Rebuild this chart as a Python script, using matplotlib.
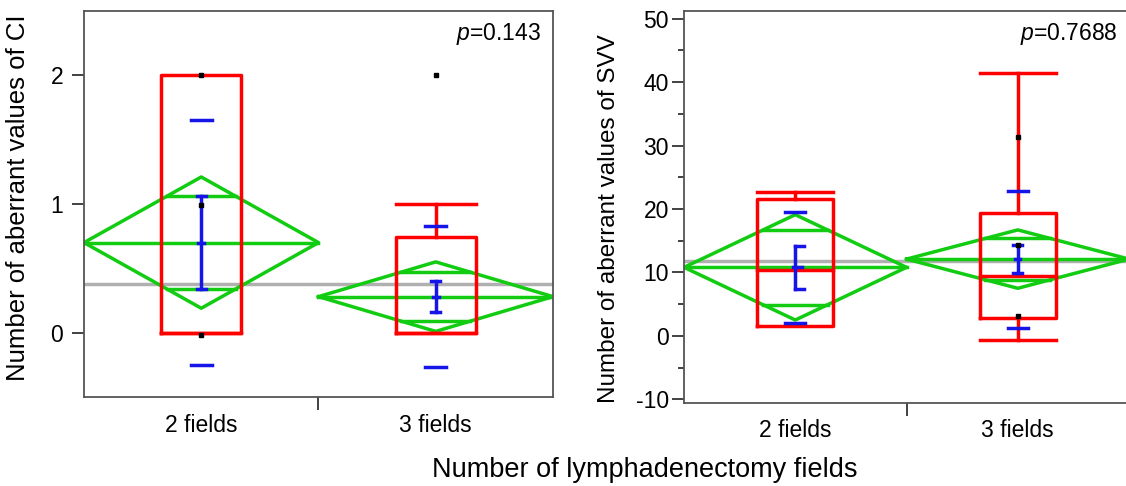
import numpy as np
import matplotlib.pyplot as plt

groups = ["2 fields", "3 fields"]

# CI panel
ci_mean = [0.70, 0.28]
ci_sd = [0.95, 0.55]
ci_se = [0.36, 0.118]
ci_diamond = [0.51, 0.27]
ci_q1 = [0.0, 0.0]
ci_median = [0.0, 0.0]
ci_q3 = [2.0, 0.74]
ci_whisk_lo = [0.0, 0.0]
ci_whisk_hi = [2.0, 1.0]
ci_points = [[2.0, 0.99, -0.02], [2.0]]
ci_grand_mean = 0.38
ci_p = "0.143"

# SVV panel
svv_mean = [10.8, 12.1]
svv_sd = [8.7, 10.8]
svv_se = [3.4, 2.25]
svv_diamond = [8.3, 4.6]
svv_q1 = [1.6, 2.8]
svv_median = [10.4, 9.4]
svv_q3 = [21.5, 19.4]
svv_whisk_lo = [1.6, -0.6]
svv_whisk_hi = [22.6, 41.5]
svv_points = [[], [31.4, 14.3, 3.2]]
svv_grand_mean = 11.75
svv_p = "0.7688"

RED = "#ff0000"
GREEN = "#11cc11"
BLUE = "#1515e8"
GRAY = "#b0b0b0"
LW = 2.5

plt.rcParams["font.family"] = ["Liberation Sans", "DejaVu Sans"]
plt.rcParams["mathtext.fontset"] = "custom"
plt.rcParams["mathtext.it"] = "Liberation Sans:italic"
plt.rcParams["mathtext.rm"] = "Liberation Sans"
plt.rcParams["axes.unicode_minus"] = False


def draw_panel(ax, mean, sd, se, dia, q1, med, q3, wlo, whi, points, grand, p, cap_shift=(0, 0)):
    ax.axhline(grand, color=GRAY, lw=LW, zorder=1)
    box_w = 0.17
    for i in range(len(groups)):
        xc = i + 0.5
        x0, x1 = i, i + 1
        m, h = mean[i], dia[i]
        # mean diamond
        ax.plot([x0, xc, x1, xc, x0], [m, m + h, m, m - h, m], color=GREEN, lw=LW, zorder=2)
        ax.plot([x0, x1], [m, m], color=GREEN, lw=LW, zorder=2)
        k = 0.5 * (1 - 1 / np.sqrt(2))
        for s in (1, -1):
            ax.plot([xc - k, xc + k], [m + s * h / np.sqrt(2)] * 2, color=GREEN, lw=LW, zorder=2)
        # quantile box
        ax.plot([xc - box_w, xc + box_w, xc + box_w, xc - box_w, xc - box_w],
                [q1[i], q1[i], q3[i], q3[i], q1[i]], color=RED, lw=LW, zorder=3,
                solid_joinstyle="round")
        ax.plot([xc - box_w, xc + box_w], [med[i]] * 2, color=RED, lw=LW, zorder=3)
        if whi[i] > q3[i]:
            ax.plot([xc, xc], [q3[i], whi[i]], color=RED, lw=LW, zorder=3)
            ax.plot([xc - box_w, xc + box_w], [whi[i]] * 2, color=RED, lw=LW, zorder=3)
        if wlo[i] < q1[i]:
            ax.plot([xc, xc], [q1[i], wlo[i]], color=RED, lw=LW, zorder=3)
            ax.plot([xc - box_w, xc + box_w], [wlo[i]] * 2, color=RED, lw=LW, zorder=3)
        # std dev dashes and std error bar
        cs = cap_shift[i]
        for s in (1, -1):
            ax.plot([xc - 0.045, xc + 0.045], [m + s * sd[i]] * 2, color=BLUE, lw=LW, zorder=4)
            ax.plot([xc - 0.02 + cs, xc + 0.02 + cs], [m + s * se[i]] * 2, color=BLUE, lw=LW, zorder=4)
        ax.plot([xc, xc], [m - se[i], m + se[i]], color=BLUE, lw=LW, zorder=4)
        ax.plot([xc - 0.012, xc + 0.012 + cs], [m, m], color=BLUE, lw=LW, zorder=4)
        if points[i]:
            ax.plot([xc] * len(points[i]), points[i], "s", color="black", ms=2.6, zorder=5)

    ax.set_xlim(0, 2)
    ax.set_xticks([1])
    ax.set_xticklabels([""])
    ax.set_xticks([0.5, 1.5], minor=True)
    ax.set_xticklabels(groups, minor=True)
    ax.tick_params(axis="x", which="major", length=9, width=1.2, color="#222222")
    ax.tick_params(axis="x", which="minor", length=0, pad=12, labelsize=16.5)
    ax.tick_params(axis="y", which="both", width=1.2, color="#222222", labelsize=16.5)
    for sp in ax.spines.values():
        sp.set_color("#555555")
        sp.set_linewidth(1.3)
    ax.text(0.975, 0.94, r"$\it{p}$=" + p, transform=ax.transAxes,
            ha="right", va="center", fontsize=16.5)


fig = plt.figure(figsize=(11.26, 4.86), dpi=100)
ax1 = fig.add_axes([0.0746, 0.1831, 0.4165, 0.7943])
ax2 = fig.add_axes([0.6075, 0.1718, 0.3952, 0.8056])

draw_panel(ax1, ci_mean, ci_sd, ci_se, ci_diamond, ci_q1, ci_median, ci_q3,
           ci_whisk_lo, ci_whisk_hi, ci_points, ci_grand_mean, ci_p)
ax1.set_ylim(-0.5, 2.5)
ax1.set_yticks([0, 1, 2])
ax1.tick_params(axis="y", length=9, pad=6)
ax1.set_ylabel("Number of aberrant values of CI", fontsize=18.5)
ax1.yaxis.set_label_coords(-0.115, 0.515)

draw_panel(ax2, svv_mean, svv_sd, svv_se, svv_diamond, svv_q1, svv_median, svv_q3,
           svv_whisk_lo, svv_whisk_hi, svv_points, svv_grand_mean, svv_p,
           cap_shift=(0.02, 0))
ax2.set_ylim(-10.5, 51.2)
ax2.set_yticks(np.arange(-10, 51, 10))
ax2.set_yticks(np.arange(-5, 50, 10), minor=True)
ax2.tick_params(axis="y", which="major", length=9, pad=2)
ax2.tick_params(axis="y", which="minor", length=4.5)
ax2.set_ylabel("Number of aberrant values of SVV", fontsize=17.5)
ax2.yaxis.set_label_coords(-0.143, 0.47)

fig.text(645 / 1126, 1 - 470 / 486, "Number of lymphadenectomy fields",
         ha="center", va="center", fontsize=19.5)

fig.savefig("out.png", dpi=100)
